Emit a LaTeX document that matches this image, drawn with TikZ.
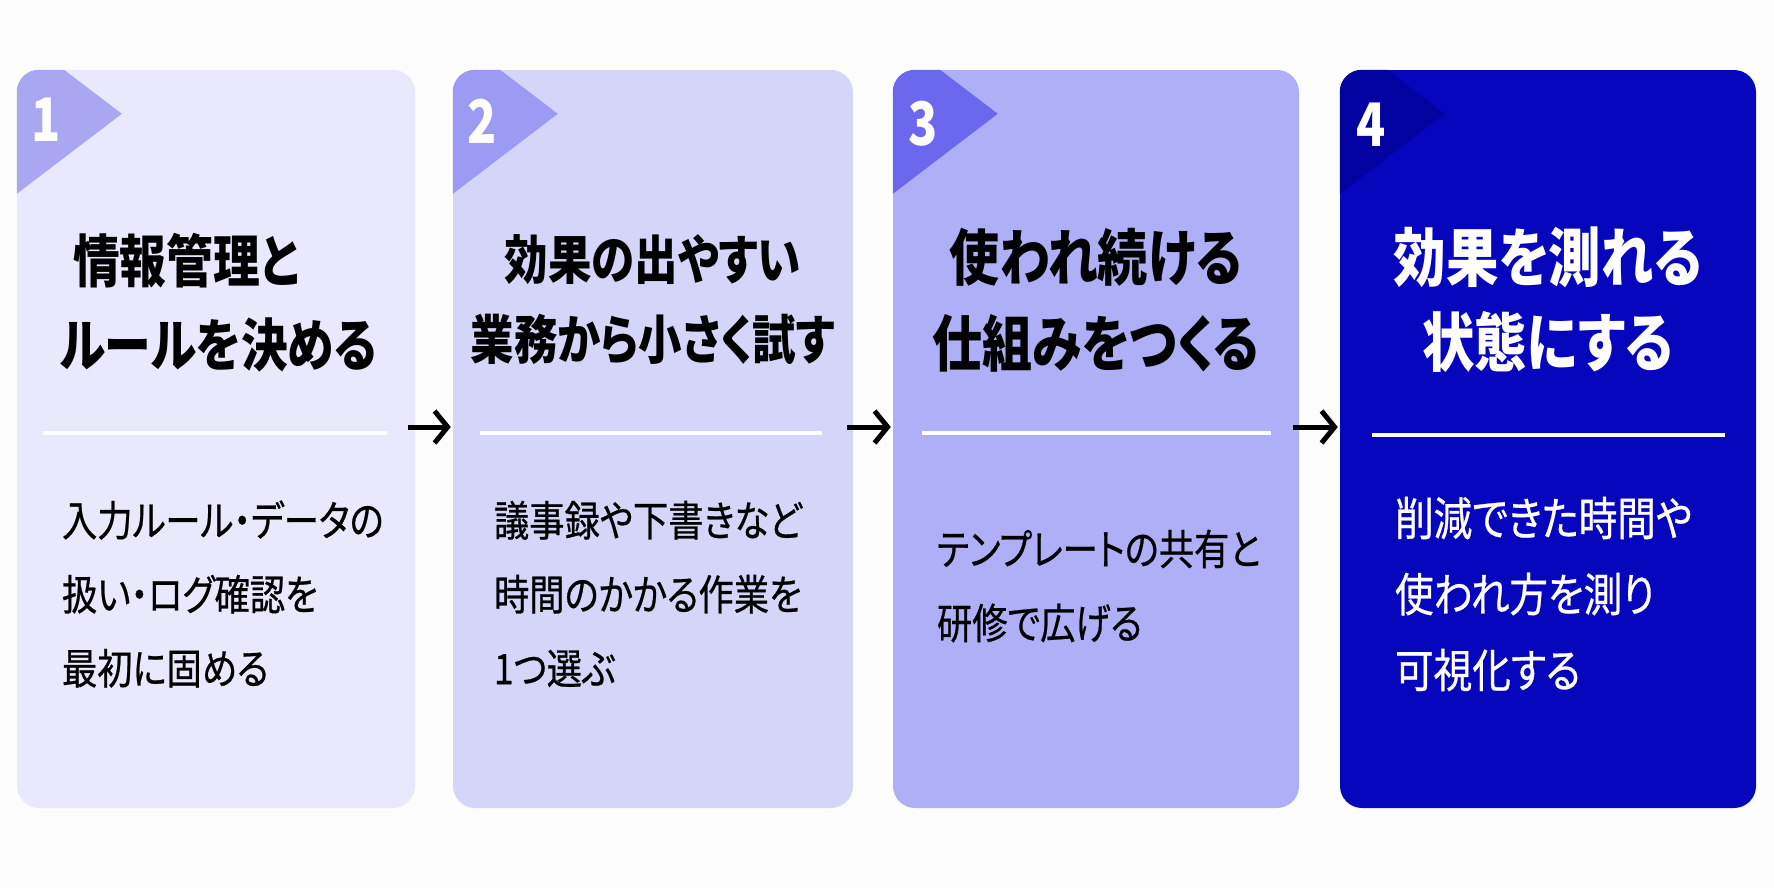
\documentclass[tikz,border=0pt]{standalone}
\usepackage{fontspec}
\newfontfamily\jpfont[FakeStretch=0.8]{Noto Sans CJK JP}
\newfontfamily\jptitle[FakeStretch=0.82,RawFeature=+palt]{Noto Sans CJK JP}
\newfontfamily\jpbody[FakeStretch=0.84,FakeBold=0.6,RawFeature=+palt]{Noto Sans CJK JP}
\usetikzlibrary{arrows.meta}

\definecolor{cardA}{HTML}{E9E8FD}
\definecolor{cardB}{HTML}{D5D5FA}
\definecolor{cardC}{HTML}{AFAFF7}
\definecolor{cardD}{HTML}{0606BC}
\definecolor{tabA}{HTML}{A9A7F2}
\definecolor{tabB}{HTML}{9C9AF2}
\definecolor{tabC}{HTML}{6B68EE}
\definecolor{tabD}{HTML}{0202A0}
\definecolor{paper}{HTML}{FDFDFD}

\begin{document}
\begin{tikzpicture}[x=1pt,y=-1pt,
	card/.style={rounded corners=22pt,minimum height=738pt,inner sep=0pt},
	num/.style={text=white,inner sep=0pt,font={\jpfont\bfseries\fontsize{60}{60}\selectfont}},
	ttl/.style={inner sep=0pt,align=center,font={\jptitle\bfseries\fontsize{57}{84}\selectfont}},
	txt/.style={inner sep=0pt,anchor=west,align=left,font={\jpbody\fontsize{42}{74}\selectfont}},
	rule/.style={white,line width=4pt},
	flow/.style={line width=5pt,-{Straight Barb[length=13pt,width=32pt]}}]
	\fill[paper] (0,0) rectangle (1774,887);
	\useasboundingbox (0,0) rectangle (1774,887);

	% cards
	\node[card,fill=cardA,minimum width=398pt] (c1) at (216,439) {};
	\node[card,fill=cardB,minimum width=400pt] (c2) at (653,439) {};
	\node[card,fill=cardC,minimum width=406pt] (c3) at (1096,439) {};
	\node[card,fill=cardD,minimum width=416pt] (c4) at (1548,439) {};

	% step tabs
	\begin{scope}
		\clip[rounded corners=22pt] (c1.north west) rectangle (c1.south east);
		\fill[tabA] ([yshift=36pt]c1.north west) -- ([xshift=105pt,yshift=-44pt]c1.north west) -- ([yshift=-124pt]c1.north west) -- cycle;
	\end{scope}
	\begin{scope}
		\clip[rounded corners=22pt] (c2.north west) rectangle (c2.south east);
		\fill[tabB] ([yshift=36pt]c2.north west) -- ([xshift=105pt,yshift=-44pt]c2.north west) -- ([yshift=-124pt]c2.north west) -- cycle;
	\end{scope}
	\begin{scope}
		\clip[rounded corners=22pt] (c3.north west) rectangle (c3.south east);
		\fill[tabC] ([yshift=36pt]c3.north west) -- ([xshift=105pt,yshift=-44pt]c3.north west) -- ([yshift=-124pt]c3.north west) -- cycle;
	\end{scope}
	\begin{scope}
		\clip[rounded corners=22pt] (c4.north west) rectangle (c4.south east);
		\fill[tabD] ([yshift=36pt]c4.north west) -- ([xshift=105pt,yshift=-44pt]c4.north west) -- ([yshift=-124pt]c4.north west) -- cycle;
	\end{scope}
	\node[num] (n1) at ([xshift=29pt,yshift=-50pt]c1.north west) {1};
	\node[num] (n2) at ([xshift=29pt,yshift=-51pt]c2.north west) {2};
	\node[num] (n3) at ([xshift=30pt,yshift=-54pt]c3.north west) {3};
	\node[num] (n4) at ([xshift=31pt,yshift=-55pt]c4.north west) {4};

	% titles
	\node[ttl,anchor=west,align=left] (t1) at ([xshift=43pt,yshift=136pt]c1.west) {\hspace*{13pt}情報管理と\\ルールを決める};
	\node[ttl,font={\jptitle\bfseries\fontsize{53}{80}\selectfont}] (t2) at ([yshift=139pt]c2.center) {効果の出やすい\\業務から小さく試す};
	\node[ttl,font={\jptitle\bfseries\fontsize{61}{86}\selectfont}] (t3) at ([yshift=139pt]c3.center) {使われ続ける\\仕組みをつくる};
	\node[ttl,text=white,font={\jptitle\bfseries\fontsize{64}{85}\selectfont}] (t4) at ([yshift=139pt]c4.center) {効果を測れる\\状態にする};

	% dividers
	\draw[rule] ([xshift=26pt,yshift=6pt]c1.west) -- ([xshift=-28pt,yshift=6pt]c1.east);
	\draw[rule] ([xshift=27pt,yshift=6pt]c2.west) -- ([xshift=-31pt,yshift=6pt]c2.east);
	\draw[rule] ([xshift=29pt,yshift=6pt]c3.west) -- ([xshift=-28pt,yshift=6pt]c3.east);
	\draw[rule] ([xshift=32pt,yshift=4pt]c4.west) -- ([xshift=-31pt,yshift=4pt]c4.east);

	% descriptions
	\node[txt] (b1) at ([xshift=45pt,yshift=-155pt]c1.west) {入力ルール・データの\\扱い・ログ確認を\\最初に固める};
	\node[txt] (b2) at ([xshift=41pt,yshift=-155pt]c2.west) {議事録や下書きなど\\時間のかかる作業を\\1つ選ぶ};
	\node[txt] (b3) at ([xshift=44pt,yshift=-147pt]c3.west) {テンプレートの共有と\\研修で広げる};
	\node[txt,text=white,font={\jpbody\fontsize{46}{76}\selectfont}] (b4) at ([xshift=55pt,yshift=-155pt]c4.west) {削減できた時間や\\使われ方を測り\\可視化する};

	% flow arrows
	\draw[flow] ([xshift=-7pt,yshift=12pt]c1.east) -- ([xshift=-2pt,yshift=12pt]c2.west);
	\draw[flow] ([xshift=-6pt,yshift=12pt]c2.east) -- ([xshift=-2pt,yshift=12pt]c3.west);
	\draw[flow] ([xshift=-6pt,yshift=12pt]c3.east) -- ([xshift=-2pt,yshift=12pt]c4.west);
\end{tikzpicture}
\end{document}
